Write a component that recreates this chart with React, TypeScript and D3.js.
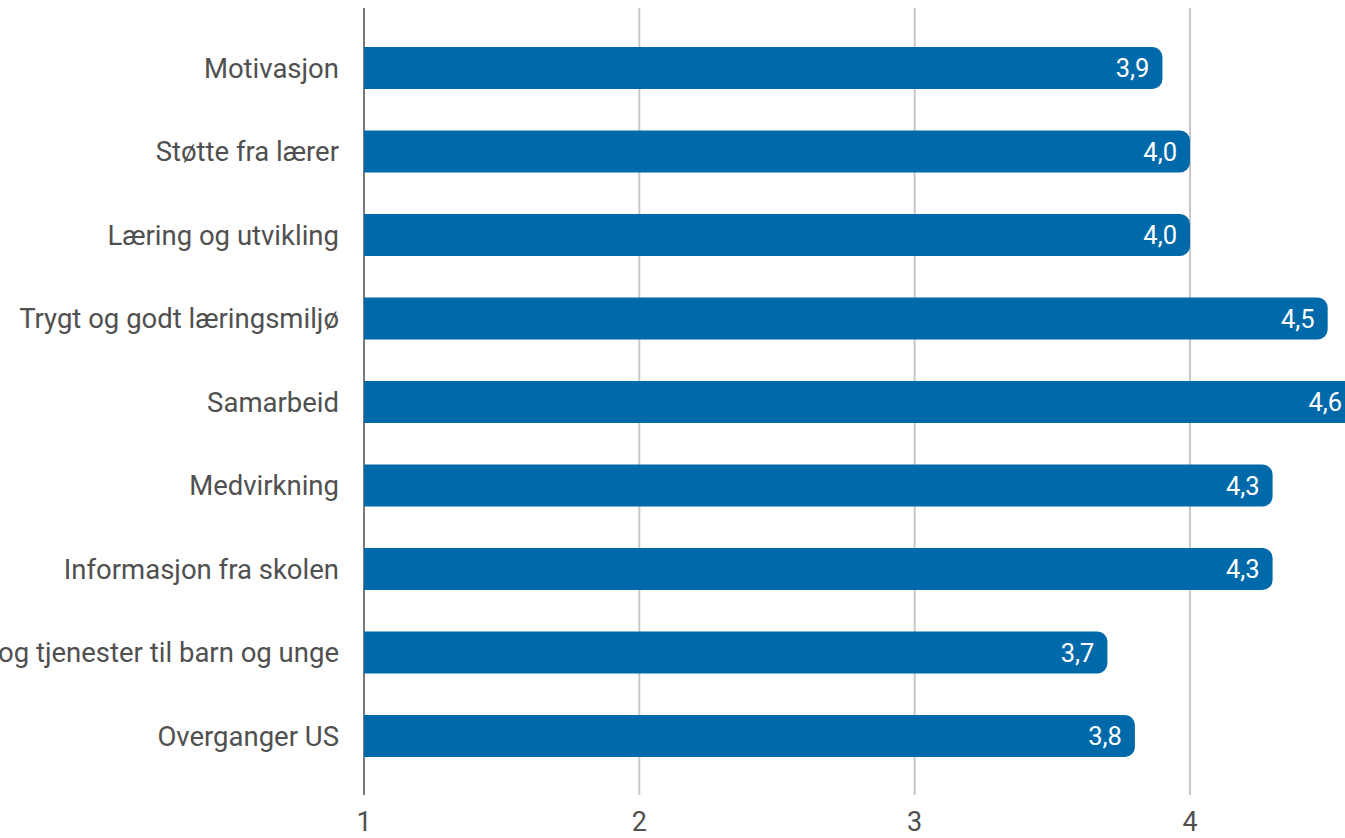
import React from "react";
import * as d3 from "d3";

const categories = [
  "Motivasjon",
  "Støtte fra lærer",
  "Læring og utvikling",
  "Trygt og godt læringsmiljø",
  "Samarbeid",
  "Medvirkning",
  "Informasjon fra skolen",
  "Tilbud og tjenester til barn og unge",
  "Overganger US",
];
const values = [3.9, 4.0, 4.0, 4.5, 4.6, 4.3, 4.3, 3.7, 3.8];
const ticks = [1, 2, 3, 4];

const W = 1345;
const H = 838;

export default function App() {
  const x = d3.scaleLinear().domain([1, 4]).range([364, 1190]);
  const y = d3
    .scaleBand<string>()
    .domain(categories)
    .range([26.25, 777.75])
    .paddingInner(0.497)
    .paddingOuter(0.2485);
  const bh = y.bandwidth();
  const r = 10;
  const barPath = (v: number, cat: string) => {
    const x0 = x(1);
    const x1 = x(v);
    const y0 = y(cat)!;
    const p = d3.path();
    p.moveTo(x0, y0);
    p.lineTo(x1 - r, y0);
    p.arcTo(x1, y0, x1, y0 + r, r);
    p.lineTo(x1, y0 + bh - r);
    p.arcTo(x1, y0 + bh, x1 - r, y0 + bh, r);
    p.lineTo(x0, y0 + bh);
    p.closePath();
    return p.toString();
  };
  return (
    <svg
      width={W}
      height={H}
      style={{ position: "absolute", left: 0, top: 0, background: "#fff" }}
      fontFamily="Roboto, sans-serif"
    >
      {ticks.map((t) => (
        <line
          key={t}
          x1={x(t)}
          x2={x(t)}
          y1={8}
          y2={795}
          stroke={t === 1 ? "#7a7a7a" : "#c8c8c8"}
          strokeWidth={2}
        />
      ))}
      {categories.map((c, i) => (
        <g key={c}>
          <path d={barPath(values[i], c)} fill="#0069aa" />
          <text
            x={339}
            y={y(c)! + bh / 2}
            dy="0.36em"
            textAnchor="end"
            fontSize={27.5}
            fill="#505050"
          >
            {c}
          </text>
          <text
            x={x(values[i]) - 13}
            y={y(c)! + bh / 2}
            dy="0.36em"
            textAnchor="end"
            fontSize={25.5}
            fill="#fff"
          >
            {values[i].toFixed(1).replace(".", ",")}
          </text>
        </g>
      ))}
      {ticks.map((t) => (
        <text
          key={t}
          x={x(t)}
          y={831}
          textAnchor="middle"
          fontSize={27}
          fill="#505050"
        >
          {t}
        </text>
      ))}
    </svg>
  );
}
